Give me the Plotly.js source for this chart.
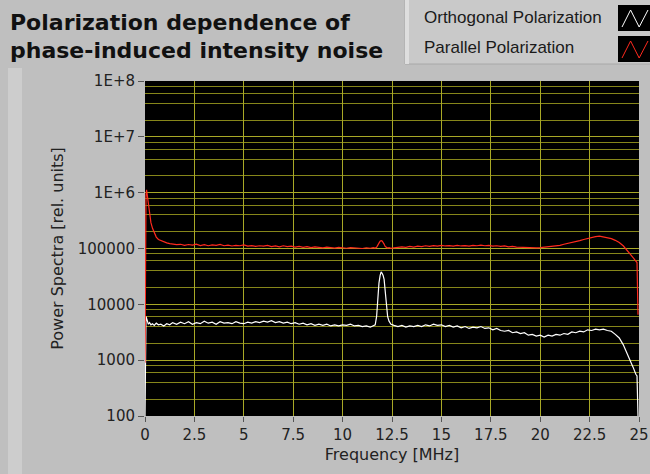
<!DOCTYPE html>
<html>
<head>
<meta charset="utf-8">
<script src="https://cdn.plot.ly/plotly-3.0.1.min.js"></script>
<style>html,body{margin:0;padding:0;background:#bfbfbf;} #chart{width:650px;height:474px;}</style>
</head>
<body>
<div id="chart"></div>
<script>
// ---- Data ----
const freq = [
  0, 0.02, 0.05, 0.08, 0.12, 0.17, 0.23, 0.3, 0.38, 0.47, 0.57, 0.68, 0.8, 0.95, 1.1, 1.25, 1.4, 1.6, 1.8,
  2.0, 2.2, 2.4, 2.6, 2.8, 3.0, 3.2, 3.4, 3.6, 3.8, 4.0, 4.2, 4.4, 4.6, 4.8, 5.0, 5.2, 5.4, 5.6, 5.8,
  6.0, 6.2, 6.4, 6.6, 6.8, 7.0, 7.2, 7.4, 7.6, 7.8, 8.0, 8.2, 8.4, 8.6, 8.8, 9.0, 9.2, 9.4, 9.6, 9.8,
  10.0, 10.2, 10.4, 10.6, 10.8, 11.0, 11.2, 11.4, 11.55, 11.65, 11.72, 11.78, 11.84, 11.9, 11.95, 12.0,
  12.05, 12.1, 12.16, 12.22, 12.28, 12.35, 12.45, 12.6, 12.8, 13.0, 13.2, 13.4, 13.6, 13.8, 14.0, 14.2,
  14.4, 14.6, 14.8, 15.0, 15.2, 15.4, 15.6, 15.8, 16.0, 16.2, 16.4, 16.6, 16.8, 17.0, 17.2, 17.4, 17.6,
  17.8, 18.0, 18.2, 18.4, 18.6, 18.8, 19.0, 19.2, 19.4, 19.6, 19.8, 20.0, 20.2, 20.4, 20.6, 20.8, 21.0,
  21.2, 21.4, 21.6, 21.8, 22.0, 22.2, 22.4, 22.6, 22.8, 23.0, 23.2, 23.4, 23.6, 23.8, 24.0, 24.2, 24.35,
  24.5, 24.6, 24.7, 24.78, 24.84, 24.9, 24.95
];
const orthogonal = [
  100, 5200, 6100, 5600, 4700, 4400, 4700, 4300, 4500, 4200, 4600, 4300, 4400, 4100, 4500, 4300, 4700, 4400, 4800,
  4500, 4900, 4400, 4700, 4500, 5000, 4600, 4800, 4400, 4900, 4600, 4700, 4500, 4900, 4600, 4500, 4800, 4600, 4900, 4700,
  5000, 4800, 5100, 4700, 4900, 4600, 4800, 4500, 4700, 4400, 4600, 4300, 4500, 4200, 4400, 4200, 4400, 4100, 4300, 4100,
  4300, 4200, 4400, 4100, 4200, 4000, 4100, 3900, 4100, 4300, 6000, 13000, 24000, 33000, 38000, 36000,
  33000, 28000, 15000, 8500, 6000, 5000, 4400, 4200, 4000, 4200, 3900, 4100, 4000, 4200, 4000, 4300,
  4100, 4400, 4200, 4300, 4000, 4200, 3900, 4100, 3800, 4000, 3700, 3900, 3800, 4000, 3700, 3800, 3500,
  3700, 3400, 3300, 3400, 3100, 3200, 3000, 3100, 2800, 2900, 2700, 2800, 2600, 2800, 2700, 2900, 2800,
  3000, 2900, 3200, 3100, 3300, 3200, 3500, 3400, 3600, 3500, 3600, 3400, 3300, 2900, 2500, 1900, 1400,
  1100, 900, 750, 620, 560, 520, 100
];
const parallel = [
  900, 350000, 900000, 1120000, 850000, 560000, 390000, 290000, 230000, 185000, 160000, 145000, 138000, 130000, 126000, 122000, 120000, 117000, 119000,
  114000, 118000, 115000, 120000, 113000, 117000, 112000, 116000, 114000, 118000, 112000, 115000, 111000, 114000, 112000, 116000, 110000, 113000, 109000, 112000,
  110000, 114000, 108000, 111000, 107000, 112000, 108000, 110000, 106000, 109000, 105000, 108000, 104000, 107000, 105000, 103000, 106000, 104000, 102000, 105000,
  103000, 101000, 104000, 102000, 103000, 100000, 103000, 101000, 104000, 102000, 105000, 112000, 125000, 135000, 138000, 136000,
  130000, 120000, 108000, 103000, 102000, 104000, 101000, 103000, 105000, 107000, 105000, 109000, 106000, 110000, 108000, 112000,
  109000, 113000, 110000, 114000, 111000, 113000, 110000, 114000, 111000, 113000, 110000, 114000, 112000, 115000, 112000, 114000, 110000,
  112000, 109000, 111000, 107000, 109000, 106000, 105000, 107000, 104000, 105000, 103000, 104000, 106000, 105000, 109000, 112000, 114000,
  119000, 123000, 128000, 132000, 138000, 145000, 152000, 158000, 163000, 166000, 160000, 157000, 150000, 140000, 128000, 112000, 98000,
  85000, 76000, 69000, 63000, 59000, 56000, 6500
];
const seriesNames = ['Orthogonal Polarization', 'Parallel Polarization'];
const xTickVals = [0, 2.5, 5, 7.5, 10, 12.5, 15, 17.5, 20, 22.5, 25];
const xTickText = ['0', '2.5', '5', '7.5', '10', '12.5', '15', '17.5', '20', '22.5', '25'];
const yTickVals = [100, 1000, 10000, 100000, 1000000, 10000000, 100000000];
const yTickText = ['100', '1000', '10000', '100000', '1E+6', '1E+7', '1E+8'];
const yMinorVals = [200, 400, 600, 800, 2000, 4000, 6000, 8000, 20000, 40000, 60000, 80000,
  200000, 400000, 600000, 800000, 2000000, 4000000, 6000000, 8000000,
  20000000, 40000000, 60000000, 80000000];

// ---- Layout helpers (pixel -> paper coordinates) ----
const W = 650, H = 474, ML = 145, MR = 11, MT = 81, MB = 58;
const PW = W - ML - MR, PH = H - MT - MB;
const px = v => (v - ML) / PW;
const py = v => (H - MB - v) / PH;

const traces = [
  {x: freq, y: orthogonal, name: seriesNames[0], type: 'scatter', mode: 'lines',
   line: {color: '#ffffff', width: 1.2}, showlegend: false},
  {x: freq, y: parallel, name: seriesNames[1], type: 'scatter', mode: 'lines',
   line: {color: '#ff2a1e', width: 1.2}, showlegend: false}
];

function iconPath(x0, y0, x1, y1) {
  const a = px(x0), b = px(x1), t = py(y0), u = py(y1);
  const w = b - a;
  return `M${a},${u} L${a + w * 0.33},${t} L${a + w * 0.66},${u} L${b},${t}`;
}

const shapes = [
  {type: 'rect', xref: 'paper', yref: 'paper', x0: px(8), x1: px(22), y0: py(68), y1: py(474),
   fillcolor: '#cdcdcd', line: {width: 0}, layer: 'below'},
  {type: 'rect', xref: 'paper', yref: 'paper', x0: px(405), x1: px(652), y0: py(64), y1: py(-2),
   fillcolor: '#c9c9c9', line: {color: '#a8a8a8', width: 1}, layer: 'below'},
  {type: 'rect', xref: 'paper', yref: 'paper', x0: px(405), x1: px(409), y0: py(64), y1: py(-2),
   fillcolor: '#dedede', line: {width: 0}, layer: 'below'},
  {type: 'rect', xref: 'paper', yref: 'paper', x0: px(618), x1: px(652), y0: py(31), y1: py(5),
   fillcolor: '#000000', line: {width: 0}},
  {type: 'rect', xref: 'paper', yref: 'paper', x0: px(618), x1: px(652), y0: py(62), y1: py(36),
   fillcolor: '#000000', line: {width: 0}},
  {type: 'path', xref: 'paper', yref: 'paper', path: iconPath(622, 10, 648, 27), line: {color: '#ffffff', width: 1}},
  {type: 'path', xref: 'paper', yref: 'paper', path: iconPath(622, 41, 648, 58), line: {color: '#ff2a1e', width: 1}}
];

const annotations = [
  {xref: 'paper', yref: 'paper', x: px(8), y: py(22), xanchor: 'left', yanchor: 'middle', showarrow: false,
   text: '<b>Polarization dependence of</b>', font: {family: 'DejaVu Sans, Verdana, sans-serif', size: 22, color: '#111111'}},
  {xref: 'paper', yref: 'paper', x: px(8), y: py(50), xanchor: 'left', yanchor: 'middle', showarrow: false,
   text: '<b>phase-induced intensity noise</b>', font: {family: 'DejaVu Sans, Verdana, sans-serif', size: 22, color: '#111111'}},
  {xref: 'paper', yref: 'paper', x: px(422), y: py(17), xanchor: 'left', yanchor: 'middle', showarrow: false,
   text: seriesNames[0], font: {family: 'Liberation Sans, Arial, sans-serif', size: 17, color: '#1a1a1a'}},
  {xref: 'paper', yref: 'paper', x: px(422), y: py(48), xanchor: 'left', yanchor: 'middle', showarrow: false,
   text: seriesNames[1], font: {family: 'Liberation Sans, Arial, sans-serif', size: 17, color: '#1a1a1a'}}
];

const layout = {
  width: W, height: H,
  margin: {l: ML, r: MR, t: MT, b: MB, pad: 0},
  paper_bgcolor: '#bfbfbf',
  plot_bgcolor: '#000000',
  font: {family: 'DejaVu Sans, Verdana, sans-serif', size: 15, color: '#222222'},
  showlegend: false,
  xaxis: {
    range: [0, 25], tickmode: 'array', tickvals: xTickVals, ticktext: xTickText,
    showgrid: true, gridcolor: '#a8a826', gridwidth: 1, zeroline: false,
    ticks: 'outside', ticklen: 5, tickcolor: '#555555', tickwidth: 1,
    showline: false, tickfont: {size: 15, color: '#222222'},
    title: {text: 'Frequency [MHz]', font: {size: 16, color: '#222222'}, standoff: 5}
  },
  yaxis: {
    type: 'log', range: [2, 8], tickmode: 'array', tickvals: yTickVals, ticktext: yTickText,
    showgrid: true, gridcolor: '#a8a826', gridwidth: 1, zeroline: false,
    ticks: 'outside', ticklen: 6, tickcolor: '#555555', tickwidth: 1,
    showline: false, tickfont: {size: 15, color: '#222222'},
    minor: {tickmode: 'array', tickvals: yMinorVals, showgrid: true, gridcolor: '#86861a', gridwidth: 1, ticklen: 0},
    title: {text: 'Power Spectra [rel. units]', font: {size: 16, color: '#222222'}, standoff: 10}
  },
  shapes: shapes,
  annotations: annotations
};

Plotly.newPlot('chart', traces, layout, {displayModeBar: false, staticPlot: true});
</script>
</body>
</html>
